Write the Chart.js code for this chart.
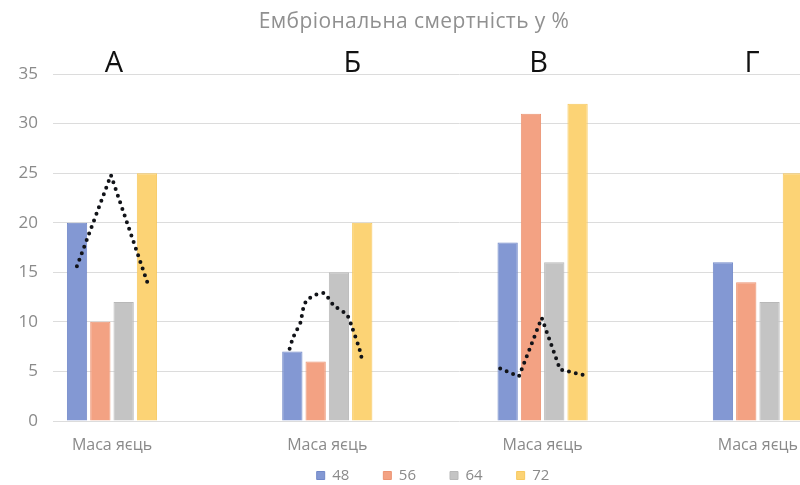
<!DOCTYPE html>
<html lang="uk">
<head>
<meta charset="utf-8">
<title>Ембріональна смертність у %</title>
<script src="https://cdn.jsdelivr.net/npm/chart.js@4.4.1/dist/chart.umd.min.js"></script>
<style>
  html, body { margin: 0; padding: 0; background: #ffffff; overflow: hidden; }
  #wrap { width: 866px; height: 485px; }
</style>
</head>
<body>
<div id="wrap"><canvas id="chart" width="866" height="485"></canvas></div>
<script>
// ---- data ----
const chartTitle = 'Ембріональна смертність у %';
const categories = ['Маса яєць', 'Маса яєць', 'Маса яєць', 'Маса яєць'];
const groupLetters = ['А', 'Б', 'В', 'Г'];
const seriesNames = ['48', '56', '64', '72'];
const values48 = [20, 7, 18, 16];
const values56 = [10, 6, 31, 14];
const values64 = [12, 15, 16, 12];
const values72 = [25, 20, 32, 25];
const yTickValues = [0, 5, 10, 15, 20, 25, 30, 35];

// trend curves per group: [offset from group centre (category units), value %]
const trendA = [[-0.163, 15.6], [-0.005, 24.8], [0.167, 13.8]];
const trendB = [[-0.175, 7.3], [-0.159, 8.4], [-0.141, 9.2], [-0.125, 9.9], [-0.110, 11.5],
                [-0.094, 12.2], [-0.056, 12.7], [-0.017, 12.9], [0.029, 11.7], [0.091, 10.7],
                [0.114, 9.5], [0.150, 7.2], [0.161, 6.2]];
const trendC = [[-0.197, 5.3], [-0.110, 4.5], [-0.004, 10.4], [0.081, 5.2], [0.197, 4.6]];

// ---- styling ----
const fills   = ['#8398d3', '#f3a283', '#c4c4c4', '#fcd375'];
const borders = ['#7188c8', '#ec9473', '#b8b8b8', '#f7c95f'];
const textGrey = '#8a8a8a';
const letterDx = [2, 25, -4, -6];   // px nudges for the group letters
const legendLift = 22;              // legend sits closer to the axis labels

const seriesValues = [values48, values56, values64, values72];

const barSets = seriesNames.map((name, s) => ({
  type: 'bar',
  label: name,
  data: seriesValues[s].map((v, i) => ({ x: i, y: v })),
  backgroundColor: fills[s],
  borderColor: borders[s],
  borderWidth: 1,
  categoryPercentage: 0.433,
  barPercentage: 0.87,
  order: 1
}));

function trendSet(points, group, tension) {
  return {
    type: 'line',
    label: 'trend',
    data: points.map(p => ({ x: group + p[0], y: p[1] })),
    borderColor: '#111318',
    borderWidth: 4,
    borderDash: [0, 7],
    borderCapStyle: 'round',
    pointRadius: 0,
    fill: false,
    tension: tension,
    order: 0
  };
}

const lineSets = [
  trendSet(trendA, 0, 0),
  trendSet(trendB, 1, 0.3),
  trendSet(trendC, 2, 0)
];

// extend the legend box upwards after layout so its row sits lower in the canvas
const legendShift = {
  id: 'legendShift',
  afterLayout(chart) {
    const lg = chart.legend;
    if (lg) { lg.top -= legendLift; lg.height += legendLift; }
  }
};

// title and group letters drawn on the canvas
const headerText = {
  id: 'headerText',
  afterDraw(chart) {
    const ctx = chart.ctx;
    const xs = chart.scales.x;
    ctx.save();
    ctx.textAlign = 'center';
    ctx.textBaseline = 'middle';
    ctx.fillStyle = '#909090';
    ctx.font = '21px "Open Sans"';
    if ('letterSpacing' in ctx) ctx.letterSpacing = '0.4px';
    ctx.fillText(chartTitle, 414, 22);
    if ('letterSpacing' in ctx) ctx.letterSpacing = '0px';
    ctx.fillStyle = '#111111';
    ctx.font = '500 29px "Open Sans"';
    ctx.textBaseline = 'alphabetic';
    groupLetters.forEach((t, i) => {
      ctx.fillText(t, xs.getPixelForValue(i) + letterDx[i], 72);
    });
    ctx.restore();
  }
};

new Chart(document.getElementById('chart'), {
  type: 'bar',
  data: { datasets: [...barSets, ...lineSets] },
  options: {
    responsive: false,
    animation: false,
    devicePixelRatio: 1,
    layout: { padding: { top: 74, left: 0, right: 0, bottom: 0 } },
    plugins: {
      title: { display: false },
      tooltip: { enabled: false },
      legend: {
        position: 'bottom',
        maxHeight: 29,
        labels: {
          boxWidth: 8,
          boxHeight: 8,
          padding: 34,
          color: textGrey,
          font: { family: 'Open Sans', size: 15 },
          filter: item => item.datasetIndex < seriesNames.length
        }
      }
    },
    scales: {
      x: {
        type: 'linear',
        min: -0.274,
        max: 3.502,
        offset: false,
        grid: { display: false, drawTicks: false },
        border: { display: false },
        afterBuildTicks: axis => { axis.ticks = categories.map((_, i) => ({ value: i })); },
        afterFit: axis => { axis.height = 35; },
        ticks: {
          autoSkip: false,
          maxRotation: 0,
          padding: 15,
          color: textGrey,
          font: { family: 'Open Sans', size: 16 },
          callback: v => categories[v] ?? ''
        }
      },
      y: {
        min: 0,
        max: 35,
        afterBuildTicks: axis => { axis.ticks = yTickValues.map(v => ({ value: v })); },
        afterFit: axis => { axis.width = 53; },
        grid: { color: '#dcdcdc', lineWidth: 1, drawTicks: false },
        border: { display: false },
        ticks: {
          padding: 15,
          color: textGrey,
          font: { family: 'Open Sans', size: 17 }
        }
      }
    }
  },
  plugins: [legendShift, headerText]
});
</script>
</body>
</html>
